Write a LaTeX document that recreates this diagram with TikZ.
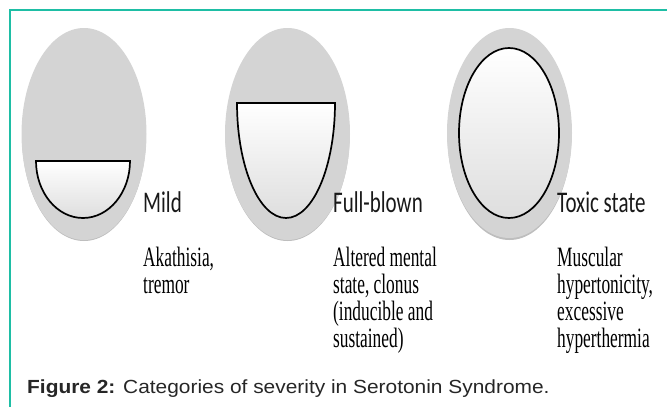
\documentclass[tikz,border=0pt]{standalone}
\usepackage{fontspec}
\newfontfamily\namefont{Carlito}[FakeStretch=0.7]
\newfontfamily\notefont{Liberation Serif}[FakeStretch=0.62]
\newfontfamily\captionfont{Liberation Sans}[FakeStretch=1.1]
\usepackage{xcolor}
\definecolor{framegreen}{RGB}{30, 190, 165}
\definecolor{pillgray}{RGB}{212, 212, 212}
\definecolor{shadowgray}{RGB}{190, 190, 190}
\definecolor{levelbottom}{RGB}{222, 222, 222}
\usetikzlibrary{positioning}

\tikzset{
  pill/.style={fill=pillgray},
  pillshadow/.style={fill=shadowgray},
  level/.style={draw=black, line width=1.7pt, top color=white, bottom color=levelbottom},
  sevname/.style={inner sep=0pt, anchor=base west, text=black!90,
                  font=\namefont\fontsize{30}{30}\selectfont},
  sevnote/.style={inner sep=0pt, align=left, text=black,
                  font=\notefont\fontsize{28}{27.2}\selectfont},
}

\begin{document}
\begin{tikzpicture}[x=1pt, y=-1pt]
    \useasboundingbox (0,0) rectangle (667,407);
    \draw[framegreen, line width=1.4pt] (10,407) -- (10,10) -- (667,10);

    % mild
    \fill[pillshadow] (84,136) ellipse [x radius=62pt, y radius=105pt];
    \fill[pill] (84,134) ellipse [x radius=62.5pt, y radius=106pt];
    \draw[level] (36,161) arc [start angle=180, end angle=360,
                               x radius=47pt, y radius=57pt] -- cycle;
    \node[sevname] (mild) at (143,212) {Mild};
    \node[sevnote, below=34pt of mild.south west, anchor=north west]
         (mildnote) {Akathisia,\\tremor};

    % full-blown
    \fill[pillshadow] (287.5,136) ellipse [x radius=62pt, y radius=105pt];
    \fill[pill] (287.5,134) ellipse [x radius=62.5pt, y radius=106pt];
    \draw[level] (237,103) arc [start angle=180, end angle=360,
                                x radius=49pt, y radius=115pt] -- cycle;
    \node[sevname] (full) at (333,212) {Full-blown};
    \node[sevnote, below=34pt of full.south west, anchor=north west]
         (fullnote) {Altered mental\\state, clonus\\(inducible and\\sustained)};

    % toxic
    \fill[pillshadow] (509.5,135) ellipse [x radius=62pt, y radius=105pt];
    \fill[pill] (509.5,133) ellipse [x radius=62.5pt, y radius=105pt];
    \draw[level] (509,133) ellipse [x radius=50pt, y radius=85pt];
    \node[sevname] (toxic) at (557,212) {Toxic state};
    \node[sevnote, below=34pt of toxic.south west, anchor=north west]
         (toxicnote) {Muscular\\hypertonicity,\\excessive\\hyperthermia};

    \node[anchor=base west, inner sep=0pt, text=black!85,
          font=\captionfont\fontsize{19}{21}\selectfont]
         (caption) at (27,393) {\textbf{Figure 2:} Categories of severity in Serotonin Syndrome.};
\end{tikzpicture}
\end{document}
